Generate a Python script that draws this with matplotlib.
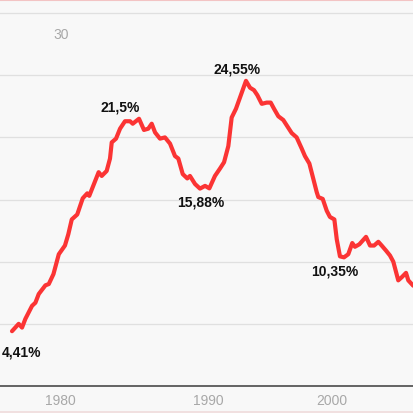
import matplotlib
matplotlib.use("Agg")
import matplotlib.pyplot as plt
from matplotlib.lines import Line2D

# Quarterly-ish readings of the unemployment rate (%) from the picture
years = [1976.5, 1977.0, 1977.25, 1977.5, 1978.0, 1978.25, 1978.5, 1979.0, 1979.25, 1979.6,
         1980.0, 1980.46, 1980.71, 1980.97, 1981.38, 1981.79, 1982.13, 1982.28, 1982.63, 1982.98,
         1983.21, 1983.58, 1983.83, 1983.96, 1984.28, 1984.58, 1984.95, 1985.33, 1985.53, 1986.0,
         1986.37, 1986.69, 1986.95, 1987.2, 1987.57, 1987.94, 1988.32, 1988.69, 1988.94, 1989.27,
         1989.61, 1989.81, 1990.19, 1990.56, 1990.94, 1991.26, 1991.68, 1992.06, 1992.36, 1992.68,
         1992.93, 1993.25, 1993.55, 1994.0, 1994.3, 1994.6, 1994.85, 1995.18, 1995.55, 1995.85,
         1996.1, 1996.42, 1996.79, 1997.09, 1997.42, 1997.79, 1998.17, 1998.41, 1998.74, 1999.04,
         1999.29, 1999.41, 1999.74, 2000.04, 2000.28, 2000.61, 2000.79, 2001.03, 2001.33, 2001.65,
         2001.95, 2002.15, 2002.48, 2002.98, 2003.28, 2003.58, 2003.9, 2004.15, 2004.47, 2004.77,
         2005.02, 2005.39, 2005.65, 2005.97, 2006.14, 2006.51, 2006.75, 2007.0, 2007.25]
rate = [4.41, 5.0, 4.7, 5.4, 6.45, 6.7, 7.4, 8.1, 8.2, 9.0,
        10.6, 11.3, 12.2, 13.4, 13.8, 15.1, 15.5, 15.3, 16.25, 17.2,
        16.9, 17.3, 18.3, 19.6, 19.9, 20.7, 21.3, 21.3, 21.1, 21.5,
        20.6, 20.7, 21.1, 20.4, 19.9, 20.0, 19.5, 18.5, 18.3, 17.05,
        16.7, 16.9, 16.25, 15.88, 16.1, 15.9, 16.9, 17.5, 18.0, 19.3,
        21.6, 22.3, 23.2, 24.55, 24.0, 23.8, 23.4, 22.7, 22.8, 22.8,
        22.3, 21.7, 21.4, 20.9, 20.35, 20.0, 19.1, 18.5, 17.9, 16.65,
        15.6, 15.2, 15.05, 14.1, 13.6, 13.4, 11.8, 10.43, 10.35, 10.6,
        11.5, 11.2, 11.4, 12.0, 11.3, 11.3, 11.6, 11.3, 10.9, 10.5,
        10.0, 8.5, 8.75, 9.1, 8.5, 8.07, 8.01, 8.3, 8.6]

# Annotated values
ann_years = [1976.5, 1986.0, 1990.56, 1994.0, 2001.33, 2006.75]
ann_text = ["4,41%", "21,5%", "15,88%", "24,55%", "10,35%", "8,01%"]
ann_vals = [4.41, 21.5, 15.88, 24.55, 10.35, 8.01]

tick_pos = [1980.09, 1991.16, 2000.43]
tick_labels = ["1980", "1990", "2000"]
grid_vals = [5, 10, 15, 20, 25, 30]

BG = "#f8f8f8"
W, H = 414, 414
fig = plt.figure(figsize=(W / 100, H / 100), dpi=100, facecolor=BG)
ax = fig.add_axes([0, 27 / H, 1, 387 / H])
ax.set_facecolor(BG)
px_per_year = 13.37
x0 = 1976.5 - 12 / px_per_year
x1 = 1976.5 + 402 / px_per_year
ax.set_xlim(x0, x1)
ax.set_ylim(0, 387 / 12.43)

for g in grid_vals:
    ax.axhline(g, color="#e0e0e0", lw=0.9, zorder=1)
ax.axhline(0, color="#3a3a3a", lw=1.1, zorder=2, clip_on=False)

ax.plot(years, rate, color="#fb3434", lw=3.0, solid_joinstyle="round",
        solid_capstyle="round", zorder=3)

font = "Liberation Sans"
# label offsets in pixels (dx, dy) relative to data point, alignment
offsets = [(10, -20, "center"), (-19, 12, "center"), (1, -13, "center"),
           (-9, 12, "center"), (-9, -13, "center"), (-2, -13, "left")]
for yr, v, t, (dx, dy, ha) in zip(ann_years, ann_vals, ann_text, offsets):
    ax.annotate(t, (yr, v), xytext=(dx * 0.72, dy * 0.72), textcoords="offset points",
                ha=ha, va="center", fontsize=10, fontweight="bold", family=font,
                color="#111111", annotation_clip=False, zorder=4)

ax.set_xticks(tick_pos)
ax.set_xticklabels(tick_labels)
ax.tick_params(axis="x", length=0, pad=5, labelsize=10, labelcolor="#a8a8a8")
for lab in ax.get_xticklabels():
    lab.set_family(font)
ax.set_yticks([])
ax.text(1980.16, 28.28, "30", ha="center", va="center", fontsize=10,
        color="#a8a8a8", family=font)

for s in ax.spines.values():
    s.set_visible(False)

fig.add_artist(Line2D([0, 1], [1 - 0.8 / H, 1 - 0.8 / H], transform=fig.transFigure,
                      color="#f3c4c4", lw=1.5))
fig.add_artist(Line2D([0, 1], [1.2 / H, 1.2 / H], transform=fig.transFigure,
                      color="#f0dcdc", lw=1.2))

fig.savefig("out.png", dpi=100, facecolor=BG)
